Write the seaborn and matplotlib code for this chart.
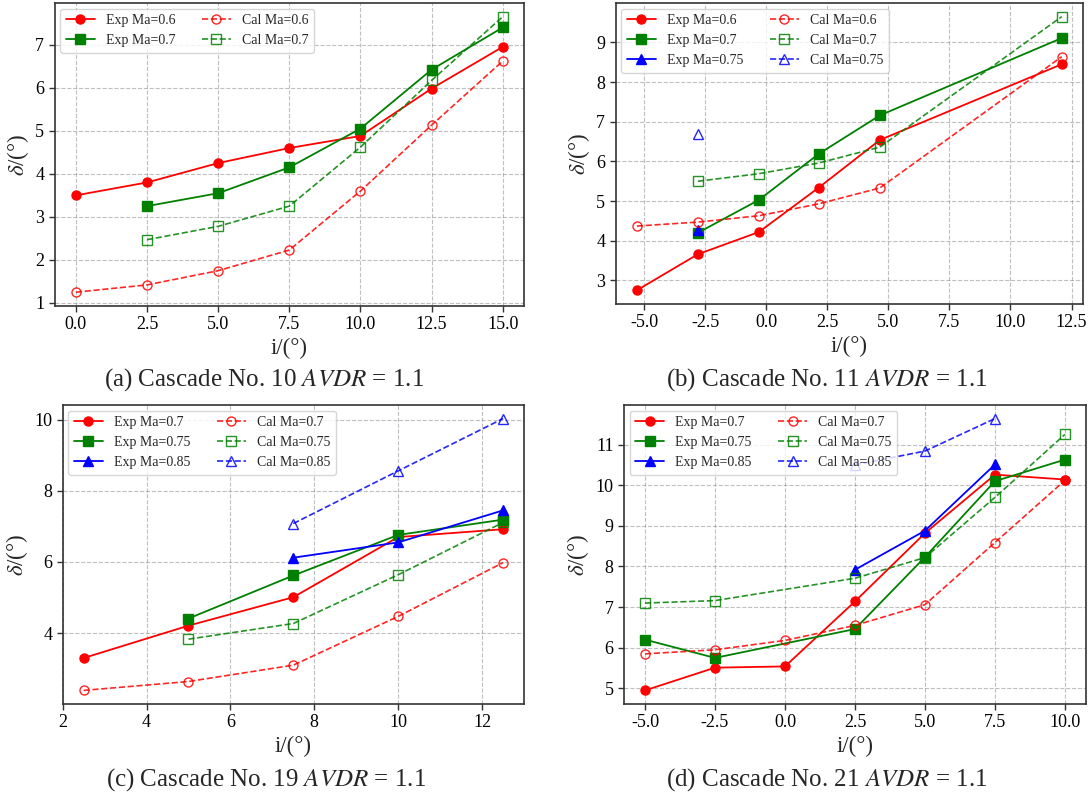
import numpy as np
import pandas as pd
import matplotlib
matplotlib.use("Agg")
import matplotlib.pyplot as plt
import seaborn as sns

# ==========================================
# Data
# ==========================================

# (a) Cascade No. 10
a_i_06 = [0.0, 2.5, 5.0, 7.5, 10.0, 12.5, 15.0]
a_exp_06 = [3.50, 3.80, 4.25, 4.60, 4.88, 5.98, 6.95]
a_cal_06 = [1.25, 1.42, 1.75, 2.23, 3.60, 5.13, 6.62]
a_i_07 = [2.5, 5.0, 7.5, 10.0, 12.5, 15.0]
a_exp_07 = [3.25, 3.55, 4.15, 5.05, 6.42, 7.40]
a_cal_07 = [2.47, 2.78, 3.25, 4.62, 6.17, 7.65]

# (b) Cascade No. 11
b_i_06 = [-5.3, -2.8, -0.3, 2.15, 4.65, 12.1]
b_exp_06 = [2.75, 3.66, 4.22, 5.34, 6.54, 8.45]
b_cal_06 = [4.37, 4.47, 4.63, 4.93, 5.33, 8.64]
b_i_07 = [-2.8, -0.3, 2.15, 4.65, 12.1]
b_exp_07 = [4.20, 5.03, 6.19, 7.16, 9.11]
b_cal_07 = [5.50, 5.69, 5.96, 6.36, 9.65]
b_i_075 = [-2.8]
b_exp_075 = [4.28]
b_cal_075 = [6.70]

# (c) Cascade No. 19
c_i_07 = [2.5, 5.0, 7.5, 10.0, 12.5]
c_exp_07 = [3.30, 4.21, 5.01, 6.70, 6.92]
c_cal_07 = [2.39, 2.64, 3.10, 4.47, 5.98]
c_i_075 = [5.0, 7.5, 10.0, 12.5]
c_exp_075 = [4.41, 5.62, 6.76, 7.19]
c_cal_075 = [3.83, 4.27, 5.64, 7.11]
c_i_085 = [7.5, 10.0, 12.5]
c_exp_085 = [6.12, 6.55, 7.45]
c_cal_085 = [7.08, 8.56, 10.03]

# (d) Cascade No. 21
d_i_07 = [-5.0, -2.5, 0.0, 2.5, 5.0, 7.5, 10.0]
d_exp_07 = [4.95, 5.51, 5.54, 7.14, 8.82, 10.26, 10.14]
d_cal_07 = [5.85, 5.95, 6.18, 6.55, 7.06, 8.59, 10.12]
d_i_075 = [-5.0, -2.5, 2.5, 5.0, 7.5, 10.0]
d_exp_075 = [6.20, 5.75, 6.46, 8.23, 10.10, 10.63]
d_cal_075 = [7.10, 7.16, 7.71, 8.22, 9.70, 11.25]
d_i_085 = [2.5, 5.0, 7.5]
d_exp_085 = [7.92, 8.88, 10.51]
d_cal_085 = [10.50, 10.84, 11.64]

captions = ["(a) Cascade No. 10 $AVDR$ = 1.1",
            "(b) Cascade No. 11 $AVDR$ = 1.1",
            "(c) Cascade No. 19 $AVDR$ = 1.1",
            "(d) Cascade No. 21 $AVDR$ = 1.1"]

# ==========================================
# Style
# ==========================================

sns.set_theme(style="ticks")
plt.rcParams["font.family"] = ["Liberation Serif", "DejaVu Serif"]
plt.rcParams["mathtext.fontset"] = "stix"
plt.rcParams["axes.edgecolor"] = "#333333"
plt.rcParams["axes.linewidth"] = 1.2

colors = ["red", "green", "blue"]
markers = ["o", "s", "^"]


def draw(ax, series, caption, cap_xy):
    # Exp first, then Cal -> 2-column legend has Exp left, Cal right
    for k, (ma, x, exp, cal) in enumerate(series):
        sns.lineplot(x=x, y=exp, ax=ax, color=colors[k], marker=markers[k],
                     markersize=6.5, markeredgecolor=colors[k], markeredgewidth=1,
                     linewidth=1.3, label=f"Exp Ma={ma}")
    for k, (ma, x, exp, cal) in enumerate(series):
        sns.lineplot(x=x, y=cal, ax=ax, color=colors[k], marker=markers[k],
                     markersize=6.5, markerfacecolor="none", markeredgecolor=colors[k],
                     markeredgewidth=1, linewidth=1.2, linestyle="--", alpha=0.85,
                     label=f"Cal Ma={ma}")
    ax.grid(True, linestyle="--", color="gray", alpha=0.5, linewidth=0.8)
    ax.set_xlabel("i/(°)", fontsize=16.5, labelpad=3)
    ax.set_ylabel(r"$\delta$/(°)", fontsize=16.5, labelpad=3)
    ax.tick_params(labelsize=13, length=4, width=1, colors="#333333", labelcolor="black")
    ax.legend(loc="upper left", ncol=2, fontsize=10, handlelength=2.1,
              columnspacing=1.9, borderaxespad=0.4)
    fig.text(cap_xy[0], cap_xy[1], caption, fontsize=18, ha="center", va="center")


fig = plt.figure(figsize=(10.89, 8.01), dpi=100)

ax_a = fig.add_axes([0.0501, 0.6180, 0.4311, 0.3783])
ax_b = fig.add_axes([0.5653, 0.6205, 0.4292, 0.3758])
ax_c = fig.add_axes([0.0575, 0.1211, 0.4237, 0.3733])
ax_d = fig.add_axes([0.5730, 0.1211, 0.4242, 0.3733])

draw(ax_a, [("0.6", a_i_06, a_exp_06, a_cal_06),
            ("0.7", a_i_07, a_exp_07, a_cal_07)],
     captions[0], (0.242, 1 - 380 / 801))
draw(ax_b, [("0.6", b_i_06, b_exp_06, b_cal_06),
            ("0.7", b_i_07, b_exp_07, b_cal_07),
            ("0.75", b_i_075, b_exp_075, b_cal_075)],
     captions[1], (0.759, 1 - 380 / 801))
draw(ax_c, [("0.7", c_i_07, c_exp_07, c_cal_07),
            ("0.75", c_i_075, c_exp_075, c_cal_075),
            ("0.85", c_i_085, c_exp_085, c_cal_085)],
     captions[2], (0.244, 1 - 780 / 801))
draw(ax_d, [("0.7", d_i_07, d_exp_07, d_cal_07),
            ("0.75", d_i_075, d_exp_075, d_cal_075),
            ("0.85", d_i_085, d_exp_085, d_cal_085)],
     captions[3], (0.759, 1 - 780 / 801))

ax_a.set_yticks([1, 2, 3, 4, 5, 6, 7])
ax_a.set_xticks(np.arange(0, 15.1, 2.5))
ax_b.set_xticks(np.arange(-5, 12.6, 2.5))
ax_c.set_yticks([4, 6, 8, 10])
ax_d.set_xticks(np.arange(-5, 10.1, 2.5))
for ax in [ax_a, ax_b, ax_d]:
    ax.set_xticklabels([f"{v:.1f}" for v in ax.get_xticks()])

fig.savefig("out.png", dpi=100)
